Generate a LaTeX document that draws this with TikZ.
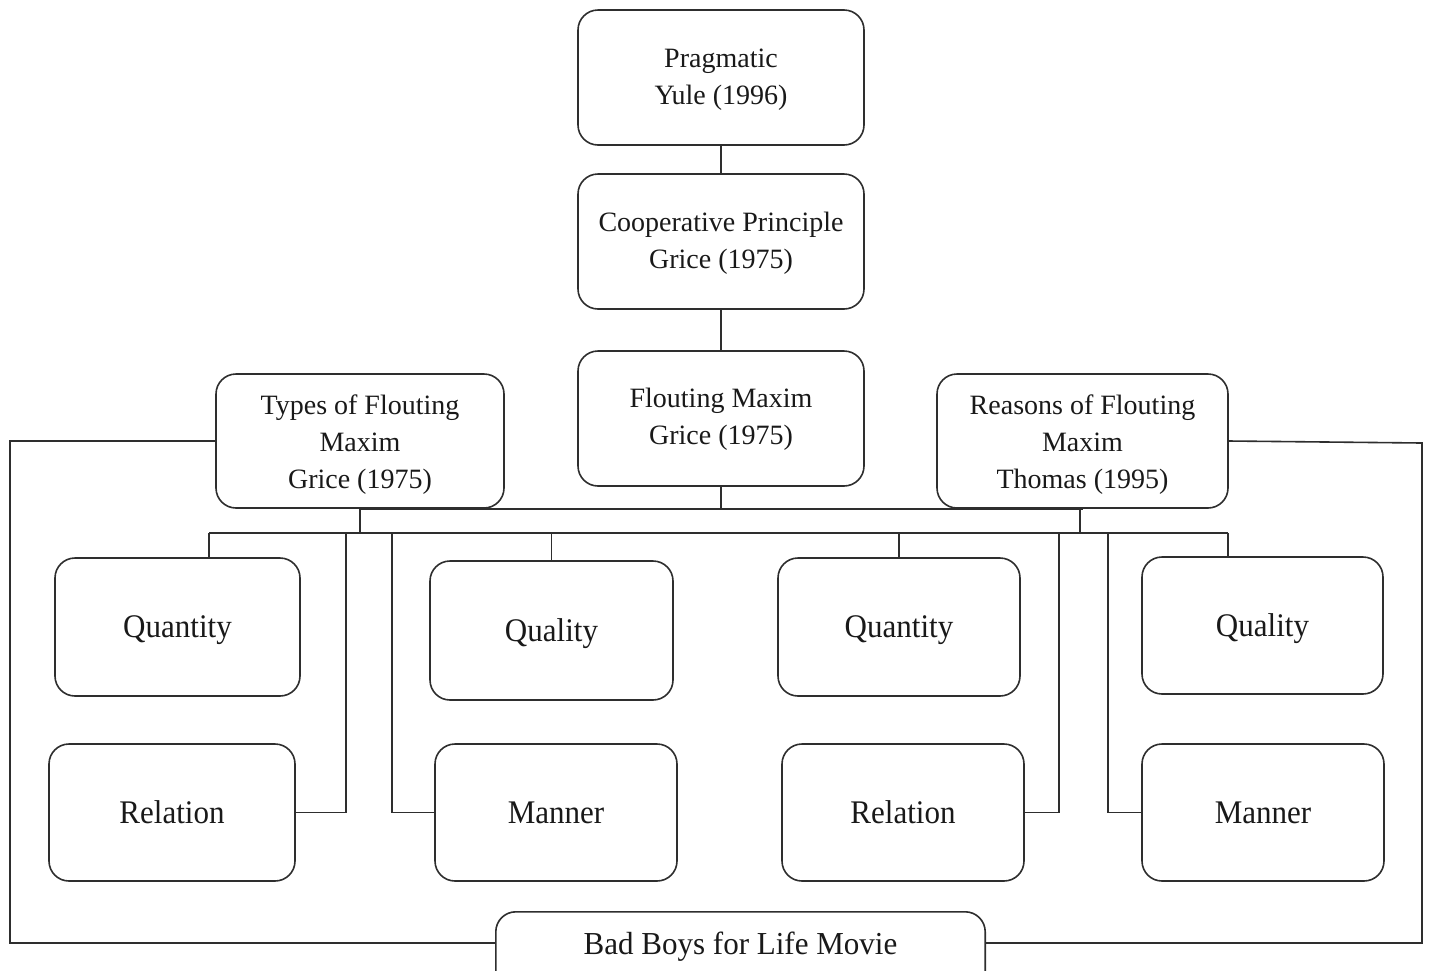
\documentclass[tikz,border=0pt]{standalone}
\usepackage{fontspec}
\setmainfont{Liberation Serif}
\newfontfamily\tallfont[FakeStretch=0.94]{Liberation Serif}
\newfontfamily\badfont[FakeStretch=0.97]{Liberation Serif}
\usetikzlibrary{calc}
\definecolor{linec}{HTML}{2E2E2E}
% #1: extra room added above the text block (moves it down by half of it)
\newcommand\ubx[2]{\raisebox{0pt}[\dimexpr\height+#1\relax][\depth]{\begin{tabular}{@{}c@{}}#2\end{tabular}}}
\begin{document}
\begin{tikzpicture}[x=1pt,y=-1pt,
  box/.style={draw=linec, line width=1.6pt, rounded corners=20pt, inner sep=0pt, text=black!90},
  upper/.style={box, font=\fontsize{28}{37}\selectfont, minimum width=286pt, minimum height=135pt},
  lower/.style={box, font=\tallfont\fontsize{33}{37}\selectfont, text depth=0pt, minimum width=243pt, minimum height=138pt},
  link/.style={draw=linec, line width=1.6pt}]
\useasboundingbox (0,0) rectangle (1432,970);
\clip (0,0) rectangle (1432,970);
\fill[white] (0,0) rectangle (1432,970);

% top column
\node[upper] (prag) at (721,77.5) {\ubx{2pt}{Pragmatic\\Yule (1996)}};
\node[upper] (coop) at (721,241.5) {\ubx{2pt}{Cooperative Principle\\Grice (1975)}};
\node[upper] (flout) at (721,418.5) {\ubx{0pt}{Flouting Maxim\\Grice (1975)}};
\node[upper, minimum width=288pt, minimum height=134pt] (types) at (360,441) {\ubx{6pt}{Types of Flouting\\Maxim\\Grice (1975)}};
\node[upper, minimum width=291pt, minimum height=134pt] (reasons) at (1082.5,441) {\ubx{6pt}{Reasons of Flouting\\Maxim\\Thomas (1995)}};

% lower boxes
\node[lower, minimum width=245pt] (quan1) at (177.5,627) {Quantity};
\node[lower, minimum height=139pt] (qual1) at (551.5,630.5) {Quality};
\node[lower, minimum width=242pt] (quan2) at (899,627) {Quantity};
\node[lower, minimum width=241pt, minimum height=137pt] (qual2) at (1262.5,625.5) {Quality};
\node[lower, minimum width=246pt, minimum height=137pt] (rel1) at (172,812.5) {Relation};
\node[lower, minimum width=242pt, minimum height=137pt] (man1) at (556,812.5) {Manner};
\node[lower, minimum width=242pt, minimum height=137pt] (rel2) at (903,812.5) {Relation};
\node[lower, minimum width=242pt, minimum height=137pt] (man2) at (1263,812.5) {Manner};

% bottom box (runs past the lower edge)
\node[font=\badfont\fontsize{32}{37}\selectfont, text=black!90, text depth=0pt, minimum width=489pt, minimum height=62pt, inner sep=0pt] (bad) at (740.5,943) {Bad Boys for Life Movie};
\draw[link, rounded corners=20pt] ($(bad.south west)+(0,60)$) -- (bad.north west) -- (bad.north east) -- ($(bad.south east)+(0,60)$);

% connectors
\draw[link] (prag.south) -- (coop.north);
\draw[link] (coop.south) -- (flout.north);
\draw[link] (types.south) -- (reasons.south);
\draw[link] (flout.south) -- (flout.south |- types.south);
\coordinate (bus) at ($(types.south)+(0,24)$);
\draw[link] (types.south) -- (bus);
\coordinate (rdrop) at ($(reasons.south)+(-2.5,0)$);
\draw[link] (rdrop) -- (rdrop |- bus);
\coordinate (d1) at ($(quan1.north)+(31.5,0)$);
\coordinate (d8) at ($(qual2.north)+(-34.5,0)$);
\draw[link] (d1 |- bus) -- (d8 |- bus);
\draw[link] (d1 |- bus) -- (d1);
\draw[link] (qual1.north |- bus) -- (qual1.north);
\draw[link] (quan2.north |- bus) -- (quan2.north);
\draw[link] (d8 |- bus) -- (d8);
\coordinate (e1) at (346,532);
\coordinate (e2) at (392,532);
\coordinate (e3) at (1059,532);
\coordinate (e4) at (1108,532);
\draw[link] (rel1.east) -| (e1);
\draw[link] (man1.west) -| (e2);
\draw[link] (rel2.east) -| (e3);
\draw[link] (man2.west) -| (e4);

% outer loops to the movie box
\coordinate (oL) at (10,441);
\coordinate (oR) at (1422,443);
\draw[link] (types.west) -- (oL) |- (bad.west);
\draw[link] (reasons.east) -- (oR) |- (bad.east);
\end{tikzpicture}
\end{document}
